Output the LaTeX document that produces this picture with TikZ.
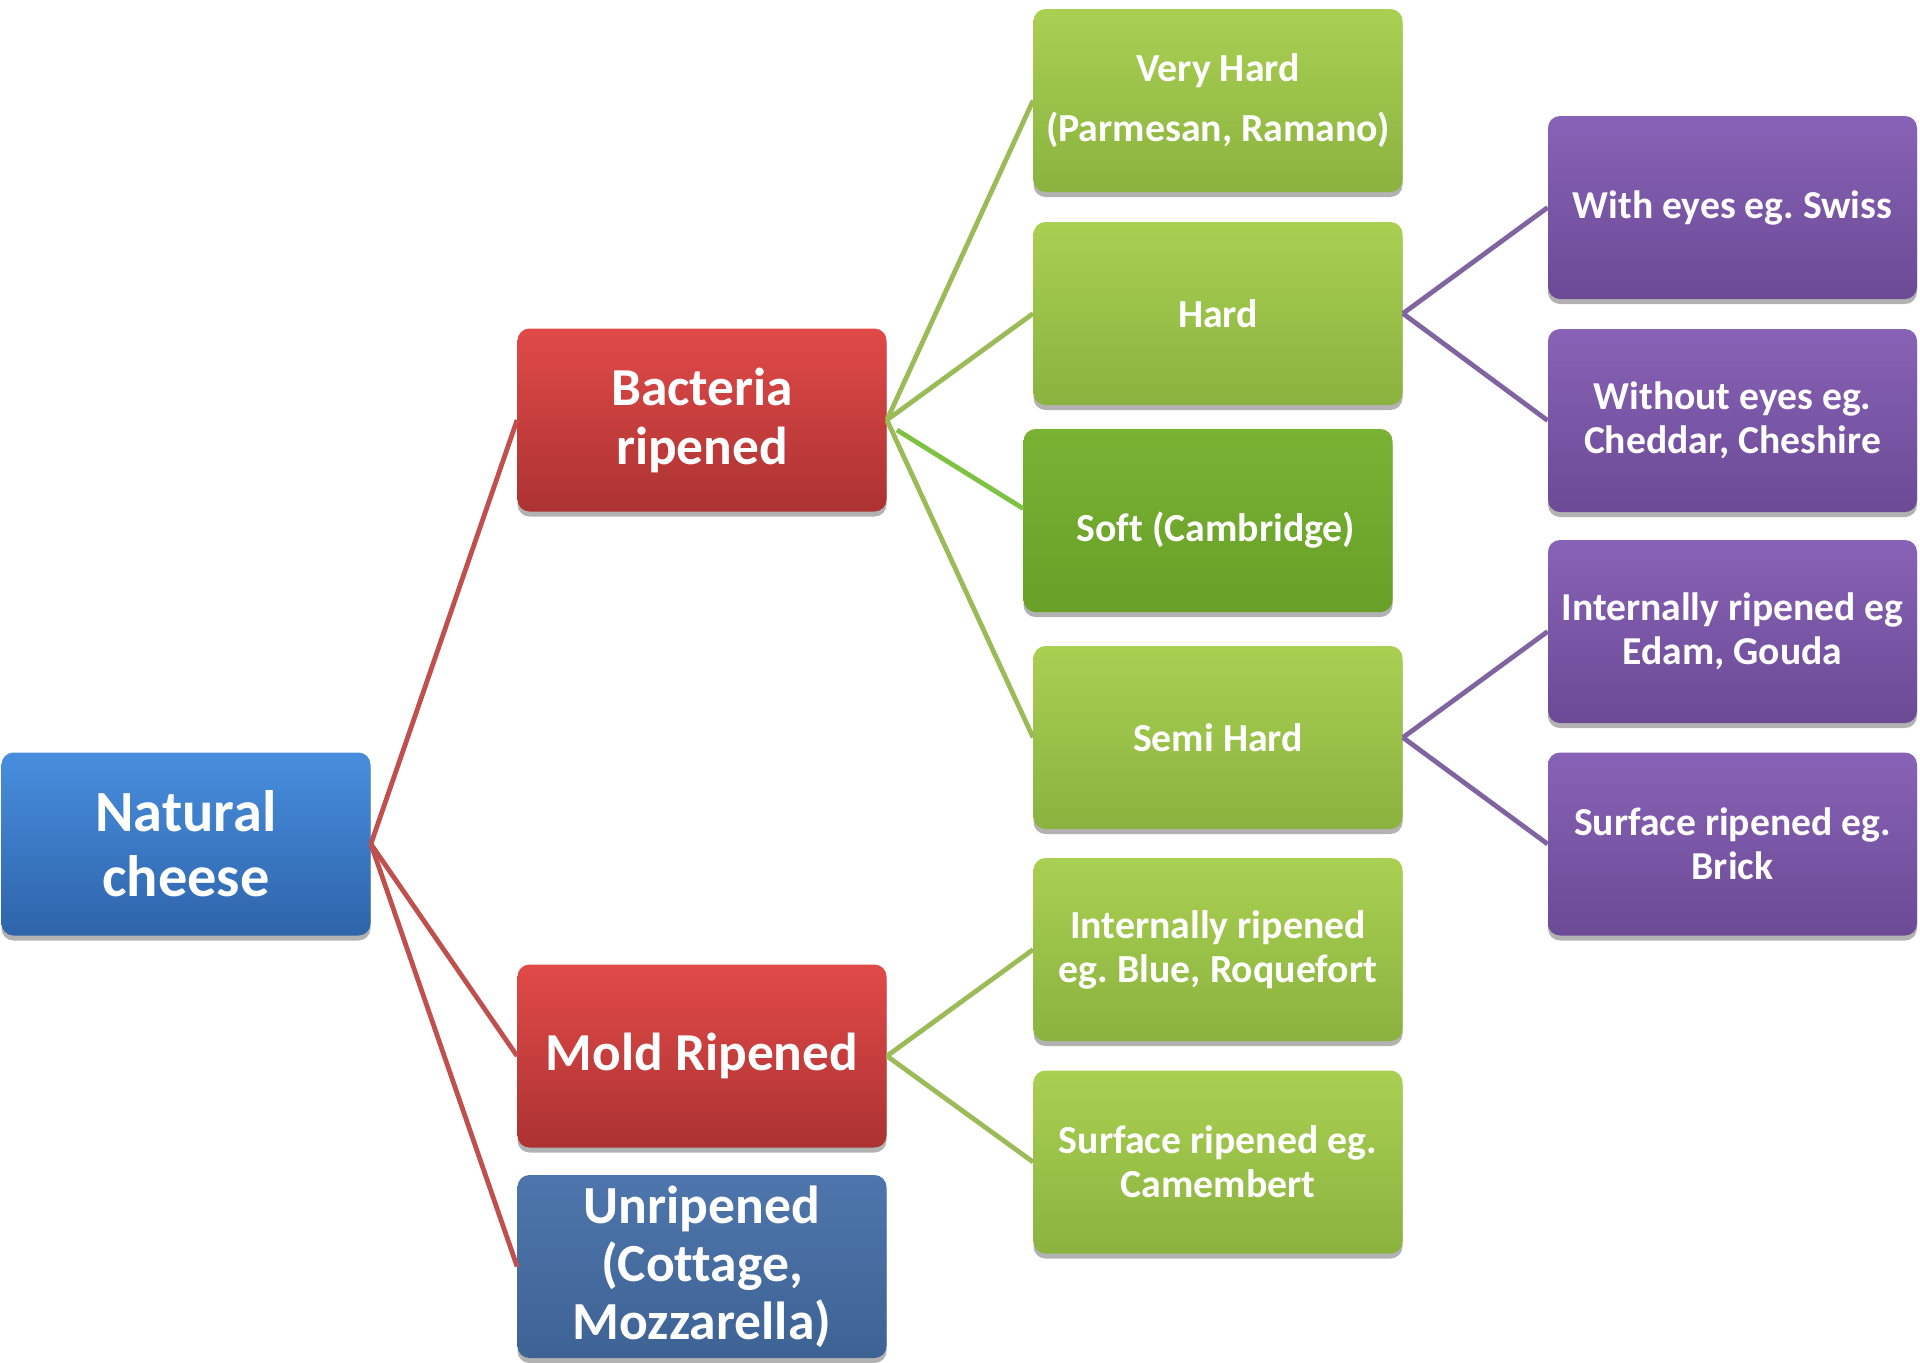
\documentclass[tikz,border=0pt]{standalone}
\usepackage{fontspec}
\setmainfont{Carlito}[Ligatures=NoCommon]
\usetikzlibrary{shadows}
\definecolor{lnred}{RGB}{192,80,77}
\definecolor{lngreen}{RGB}{155,187,89}
\definecolor{lnsoft}{RGB}{125,194,66}
\definecolor{lnpurple}{RGB}{128,100,162}
\frenchspacing
\tikzset{
  box/.style={rounded corners=6pt, minimum width=184.5pt, minimum height=91.5pt,
    align=center, text=white, inner sep=2pt,
    drop shadow={shadow xshift=0pt, shadow yshift=-2.5pt, opacity=0.3, fill=black}},
  bluebox/.style={box, top color={rgb,255:red,72;green,142;blue,222}, bottom color={rgb,255:red,46;green,100;blue,170},
    font=\fontsize{29.2}{32.5}\selectfont\bfseries},
  steelbox/.style={box, top color={rgb,255:red,78;green,118;blue,172}, bottom color={rgb,255:red,62;green,98;blue,148},
    font=\fontsize{26.8}{29}\selectfont\bfseries},
  redbox/.style={box, top color={rgb,255:red,224;green,74;blue,72}, bottom color={rgb,255:red,172;green,50;blue,50},
    font=\fontsize{26.7}{29.5}\selectfont\bfseries},
  greenbox/.style={box, top color={rgb,255:red,170;green,208;blue,82}, bottom color={rgb,255:red,138;green,178;blue,62},
    font=\fontsize{19.9}{22}\selectfont\bfseries},
  softbox/.style={box, top color={rgb,255:red,122;green,178;blue,52}, bottom color={rgb,255:red,104;green,160;blue,40},
    font=\fontsize{19.9}{22}\selectfont\bfseries},
  purplebox/.style={box, top color={rgb,255:red,136;green,98;blue,182}, bottom color={rgb,255:red,108;green,74;blue,150},
    font=\fontsize{19.8}{22}\selectfont\bfseries},
  redline/.style={draw=lnred, line width=2.4pt},
  greenline/.style={draw=lngreen, line width=2.4pt},
  softline/.style={draw=lnsoft, line width=2.4pt},
  purpleline/.style={draw=lnpurple, line width=2.4pt}
}
\begin{document}
\begin{tikzpicture}[x=0.5pt,y=-0.5pt]
\useasboundingbox (0,0) rectangle (1920,1362);
% level 0
\node[bluebox] (nat) at (186,844) {Natural\\cheese};
% level 1
\node[redbox] (bac) at (702,420) {Bacteria\\ripened};
\node[redbox] (mold) at (702,1056) {Mold Ripened};
\node[steelbox] (unr) at (702,1266.5) {Unripened\\(Cottage,\\Mozzarella)};
% level 2
\node[greenbox, font=\fontsize{19.9}{30}\selectfont\bfseries] (vh) at (1218,100.5) {Very Hard\\(Parmesan, Ramano)};
\node[greenbox] (hard) at (1218,313.5) {Hard};
\node[softbox] (soft) at (1208,520.5) {\raisebox{-5pt}[\height][\depth]{\hspace*{8pt}Soft (Cambridge)}};
\node[greenbox] (semi) at (1218,737.5) {Semi Hard};
\node[greenbox] (intb) at (1218,949.5) {Internally ripened\\eg. Blue, Roquefort};
\node[greenbox] (surc) at (1218,1162) {Surface ripened eg.\\Camembert};
% level 3
\node[purplebox] (eyes) at (1732.5,207.5) {With eyes eg. Swiss};
\node[purplebox] (noeyes) at (1732.5,420.5) {Without eyes eg.\\Cheddar, Cheshire};
\node[purplebox] (intg) at (1732.5,631.5) {Internally ripened eg\\Edam, Gouda};
\node[purplebox] (brick) at (1732.5,844) {Surface ripened eg.\\Brick};
% connectors
\draw[redline] (nat.east) -- (bac.west);
\draw[redline] (nat.east) -- (mold.west);
\draw[redline] (nat.east) -- (unr.west);
\draw[greenline] (bac.east) -- (vh.west);
\draw[greenline] (bac.east) -- (hard.west);
\draw[greenline] (bac.east) -- (semi.west);
\coordinate (softstart) at (897,430);
\draw[softline] (softstart) -- ([yshift=6pt]soft.west);
\draw[greenline] (mold.east) -- (intb.west);
\draw[greenline] (mold.east) -- (surc.west);
\draw[purpleline] (hard.east) -- (eyes.west);
\draw[purpleline] (hard.east) -- (noeyes.west);
\draw[purpleline] (semi.east) -- (intg.west);
\draw[purpleline] (semi.east) -- (brick.west);
\end{tikzpicture}
\end{document}
